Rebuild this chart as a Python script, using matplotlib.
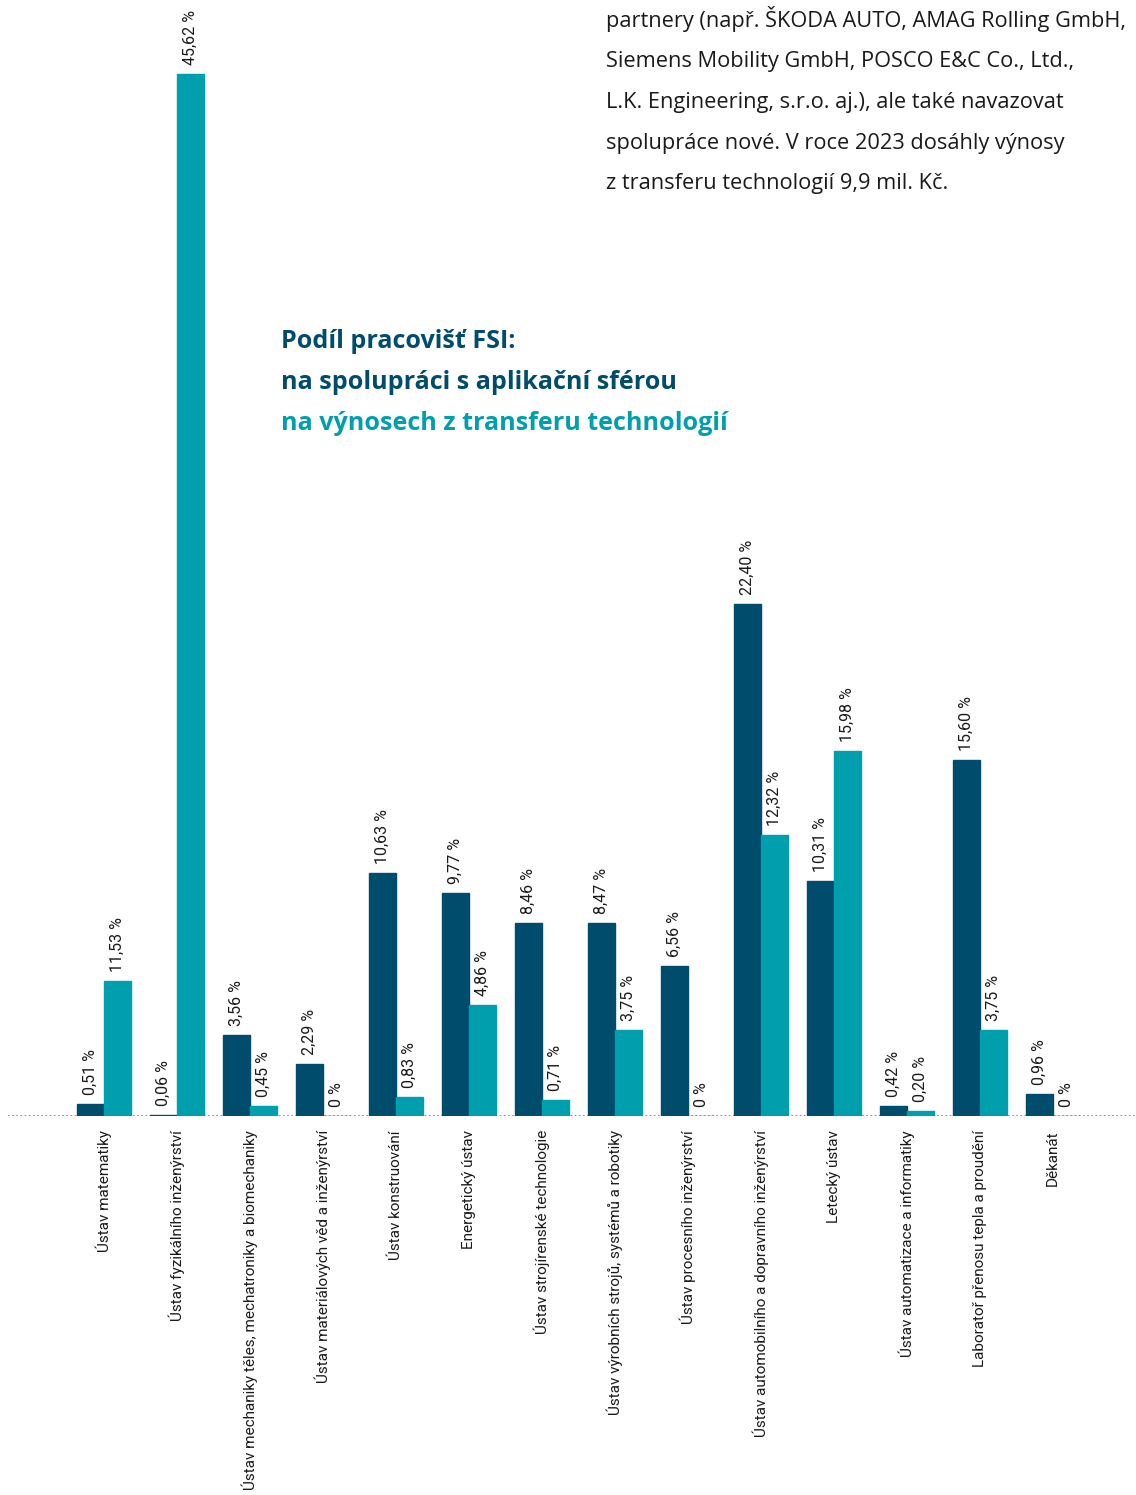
import matplotlib.pyplot as plt
import numpy as np

plt.rcParams['font.family'] = ['Roboto', 'DejaVu Sans']

# data
kategorie = [
    'Ústav matematiky',
    'Ústav fyzikálního inženýrství',
    'Ústav mechaniky těles, mechatroniky a biomechaniky',
    'Ústav materiálových věd a inženýrství',
    'Ústav konstruování',
    'Energetický ústav',
    'Ústav strojírenské technologie',
    'Ústav výrobních strojů, systémů a robotiky',
    'Ústav procesního inženýrství',
    'Ústav automobilního a dopravního inženýrství',
    'Letecký ústav',
    'Ústav automatizace a informatiky',
    'Laboratoř přenosu tepla a proudění',
    'Děkanát',
]
# vysky sloupcu tak, jak jsou nakreslene v predloze
spoluprace = [0.51, 0.06, 3.56, 2.29, 10.63, 9.77, 8.46, 8.47, 6.56, 22.40, 10.31, 0.42, 15.60, 0.96]
vynosy = [5.9, 45.62, 0.45, 0, 0.83, 4.86, 0.71, 3.75, 0, 12.32, 15.98, 0.20, 3.75, 0]
# popisky hodnot
popisky_spoluprace = ['0,51 %', '0,06 %', '3,56 %', '2,29 %', '10,63 %', '9,77 %', '8,46 %',
                      '8,47 %', '6,56 %', '22,40 %', '10,31 %', '0,42 %', '15,60 %', '0,96 %']
popisky_vynosy = ['11,53 %', '45,62 %', '0,45 %', '0 %', '0,83 %', '4,86 %', '0,71 %',
                  '3,75 %', '0 %', '12,32 %', '15,98 %', '0,20 %', '3,75 %', '0 %']

odstavec = [
    'partnery (např. ŠKODA AUTO, AMAG Rolling GmbH,',
    'Siemens Mobility GmbH, POSCO E&C Co., Ltd.,',
    'L.K. Engineering, s.r.o. aj.), ale také navazovat',
    'spolupráce nové. V roce 2023 dosáhly výnosy',
    'z transferu technologií 9,9 mil. Kč.',
]

TMAVA = '#004c6c'
SVETLA = '#009fae'

W, H = 1136, 1495
fig = plt.figure(figsize=(W / 100, H / 100), dpi=100)
ax = fig.add_axes([8 / W, 379 / H, (W - 8) / W, 1116 / H])

x = np.arange(len(kategorie))
sirka = 27 / 73

b1 = ax.bar(x - sirka / 2, spoluprace, sirka, color=TMAVA, edgecolor=TMAVA, linewidth=1)
b2 = ax.bar(x + sirka / 2, vynosy, sirka, color=SVETLA, edgecolor=SVETLA, linewidth=1)

for bars, vals, pop in ((b1, spoluprace, popisky_spoluprace), (b2, vynosy, popisky_vynosy)):
    for r, v, t in zip(bars, vals, pop):
        ax.annotate(t, (r.get_x() + r.get_width() / 2, v), xytext=(0, 9),
                    textcoords='offset pixels', rotation=90, ha='center', va='bottom',
                    fontsize=11.5, color='#1a1a1a', annotation_clip=False)

for i, k in enumerate(kategorie):
    ax.annotate(k, (i, 0), xytext=(0, -14), textcoords='offset pixels', rotation=90,
                ha='center', va='top', fontsize=11, color='#1a1a1a', annotation_clip=False)

ax.axhline(0, color='#7a7a7a', linestyle=(0, (1, 1.5)), linewidth=1.2, zorder=0)

ax.set_xlim((8 - 104) / 73, (W - 104) / 73)
ax.set_ylim(0, 1116 / 22.84)
ax.axis('off')

# odstavec vpravo nahore
for j, radek in enumerate(odstavec):
    fig.text(606 / W, 1 - (27 + 40.5 * j) / H, radek, fontsize=15.7, color='#1a1a1a',
             va='baseline', ha='left', family=['Open Sans', 'DejaVu Sans'])

# nadpis
nadpis = [('Podíl pracovišť FSI:', TMAVA, 348),
          ('na spolupráci s aplikační sférou', TMAVA, 389),
          ('na výnosech z transferu technologií', SVETLA, 430)]
for t, c, y in nadpis:
    fig.text(281 / W, 1 - y / H, t, fontsize=18.1, fontweight='bold', color=c,
             va='baseline', family=['Open Sans', 'DejaVu Sans'])

fig.savefig('out.png', dpi=100, facecolor='white')
